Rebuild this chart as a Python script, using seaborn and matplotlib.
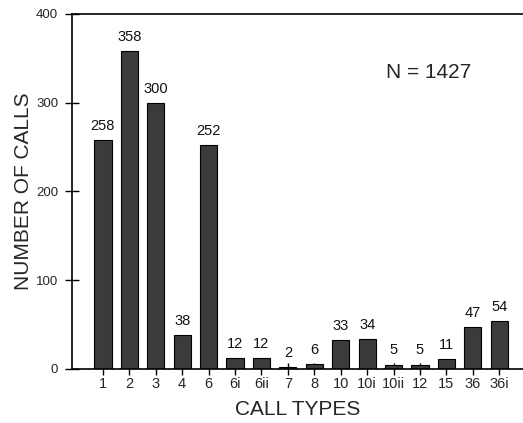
import matplotlib
matplotlib.use("Agg")
import matplotlib.pyplot as plt
import seaborn as sns
import pandas as pd

categories = ["1", "2", "3", "4", "6", "6i", "6ii", "7", "8", "10", "10i", "10ii", "12", "15", "36", "36i"]
counts = [258, 358, 300, 38, 252, 12, 12, 2, 6, 33, 34, 5, 5, 11, 47, 54]
yticks = [0, 100, 200, 300, 400]

sns.set_theme(style="white")
plt.rcParams['font.family'] = ['Liberation Sans', 'DejaVu Sans']

df = pd.DataFrame({"type": categories, "n": counts})

fig = plt.figure(figsize=(5.23, 4.23), dpi=100)
ax = fig.add_axes([0.1377, 0.1277, 0.8623, 0.8393])
sns.barplot(data=df, x="type", y="n", order=categories, color="#3b3b3b",
            edgecolor="black", linewidth=0.8, width=0.65, saturation=1, ax=ax)

for i, v in enumerate(counts):
    ax.text(i, v + 8, str(v), ha="center", va="bottom", fontsize=10.5, color="#111111")

ax.set_ylim(0, 400)
ax.set_xlim(-1.17, 15.9)
ax.set_yticks(yticks)
ax.set_yticklabels([str(t) for t in yticks], fontsize=9.5)
ax.tick_params(axis="x", labelsize=10.5, direction="inout", length=8, width=1, color="black", pad=2, bottom=True)
ax.tick_params(axis="y", direction="inout", length=10, width=1, color="black", pad=5, left=True)
for s in ["left", "top", "bottom"]:
    ax.spines[s].set_color("black")
    ax.spines[s].set_linewidth(1.2)
ax.spines["right"].set_visible(False)
ax.set_xlabel("CALL TYPES", fontsize=15, labelpad=6)
ax.set_ylabel("NUMBER OF CALLS", fontsize=15, labelpad=2)
ax.text(0.79, 0.835, "N = 1427", transform=ax.transAxes, fontsize=15, ha="center", va="center")

fig.savefig("out.png", dpi=100)
